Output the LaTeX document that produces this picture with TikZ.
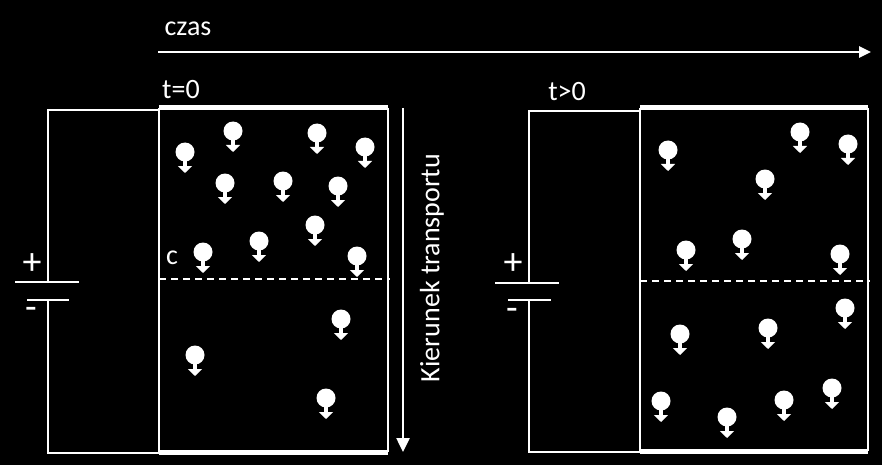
\documentclass[tikz,border=0pt]{standalone}
\usepackage{fontspec}
\setmainfont{Carlito}
\usetikzlibrary{arrows.meta}
\begin{document}
\begin{tikzpicture}[x=1pt,y=-1pt,
  wire/.style={white,line width=2.5pt},
  plate/.style={white,line width=5pt},
  lbl/.style={white,font=\fontsize{28}{32}\selectfont},
  sgn/.style={white,font=\fontsize{38}{40}\selectfont},
  part/.pic={\fill[white] (0,0) circle (9.5);
    \draw[white,line width=4.5pt,-{Triangle[width=14pt,length=7pt]}] (0,6) -- (0,21);}]
\fill[black] (0,0) rectangle (882,465);
\useasboundingbox (0,0) rectangle (882,465);
% time axis
\coordinate (ta) at (158,52); \coordinate (tb) at (871,52);
\draw[wire,-{Triangle[width=11pt,length=12pt]}] (ta) -- (tb);
\node[lbl] (czas) at (188,29) {czas};
\node[lbl] (t0) at (181,90) {t=0};
\node[lbl] (t1) at (567,92) {t>0};
% left cell
\draw[wire] (159,108) -- (159,452) (388,108) -- (388,452);
\draw[plate] (159,108) -- (388,108) (159,452) -- (388,452);
\draw[wire,dashed,dash pattern=on 7pt off 5pt] (159,279) -- (390,279);
\draw[wire] (159,110) -- (48,110) -- (48,282) (48,300) -- (48,453) -- (159,453);
\draw[wire] (15,282) -- (79,282) (27,300) -- (69,300);
\node[sgn] (p1) at (32,264) {+};
\node[sgn] (m1) at (31,313) {-};
\node[lbl] (c) at (172,258) {c};
\coordinate (ka) at (403,108); \coordinate (kb) at (403,452);
\draw[wire,-{Triangle[width=13pt,length=14pt]}] (ka) -- (kb);
\node[lbl,rotate=90] (kt) at (432,268) {Kierunek transportu};
% right cell
\draw[wire] (640,108) -- (640,451) (868,108) -- (868,451);
\draw[plate] (640,108) -- (868,108) (640,451) -- (868,451);
\draw[wire,dashed,dash pattern=on 7pt off 5pt] (640,281) -- (870,281);
\draw[wire] (640,111) -- (529,111) -- (529,283) (529,300) -- (529,452) -- (640,452);
\draw[wire] (495,283) -- (559,283) (508,300) -- (551,300);
\node[sgn] (p2) at (513,264) {+};
\node[sgn] (m2) at (512,314) {-};
% particles
\foreach \p in {(185,152),(233,131),(317,133),(365,147),(225,183),(283,181),(338,186),(315,225),(259,241),(203,252),(357,256),(341,319),(195,355),(326,398),
 (668,150),(800,132),(848,144),(765,179),(742,239),(686,250),(840,254),(845,308),(768,328),(680,334),(661,401),(727,417),(784,400),(832,388)}
  \pic at \p {part};
\end{tikzpicture}
\end{document}
